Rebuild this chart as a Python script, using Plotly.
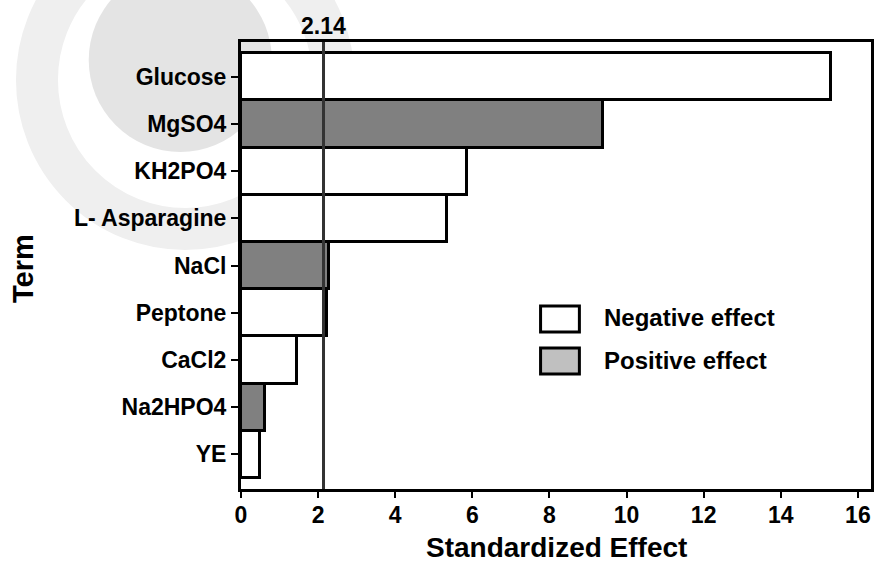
import plotly.graph_objects as go

# Pareto chart of standardized effects
terms = ["Glucose", "MgSO4", "KH2PO4", "L- Asparagine", "NaCl",
         "Peptone", "CaCl2", "Na2HPO4", "YE"]
effects = [15.3, 9.4, 5.87, 5.33, 2.27, 2.22, 1.44, 0.62, 0.5]
signs = ["Negative", "Positive", "Negative", "Negative", "Positive",
         "Negative", "Negative", "Positive", "Negative"]
critical_value = 2.14
x_ticks = [0, 2, 4, 6, 8, 10, 12, 14, 16]

BAR_FILL = {"Negative": "#ffffff", "Positive": "#808080"}
LEGEND_FILL = {"Negative": "#ffffff", "Positive": "#c0c0c0"}
legend_labels = ["Negative effect", "Positive effect"]

FONT = "Liberation Sans, Arial, sans-serif"

# page geometry (pixels)
W, H = 877, 563
L, R, T, B = 241, 3, 42, 74
PW, PH = W - L - R, H - T - B


def px(xp):
    return (xp - L) / PW


def py(yp):
    return (H - B - yp) / PH


fig = go.Figure()
fig.add_trace(go.Bar(
    y=terms, x=effects, orientation="h", width=1,
    marker=dict(color=[BAR_FILL[s] for s in signs],
                line=dict(color="black", width=3)),
    showlegend=False, hoverinfo="x+y",
))

shapes = []
# faint background emblem
shapes.append(dict(type="circle", xref="paper", yref="paper", layer="below",
                   x0=px(36), x1=px(334), y0=py(229), y1=py(-69),
                   line=dict(color="#efefef", width=42), fillcolor="rgba(0,0,0,0)"))
shapes.append(dict(type="circle", xref="paper", yref="paper", layer="below",
                   x0=px(88), x1=px(272), y0=py(152), y1=py(-32),
                   line=dict(width=0), fillcolor="#e4e4e4"))

# critical value line
shapes.append(dict(type="line", xref="x", yref="paper",
                   x0=critical_value, x1=critical_value, y0=0, y1=1,
                   line=dict(color="#333333", width=3), layer="above"))

annotations = [
    dict(text="<b>%.2f</b>" % critical_value, x=critical_value, xref="x",
         y=py(26), yref="paper", xanchor="center", yanchor="middle",
         showarrow=False, font=dict(family=FONT, size=23, color="black")),
    dict(text="<b>Standardized Effect</b>", x=px(558), xref="paper",
         y=py(547), yref="paper", xanchor="center", yanchor="middle",
         showarrow=False, font=dict(family=FONT, size=28, color="black")),
    dict(text="<b>Term</b>", x=px(22), xref="paper",
         y=py(269), yref="paper", xanchor="center", yanchor="middle",
         textangle=-90, showarrow=False,
         font=dict(family=FONT, size=29, color="black")),
]

# legend keys
key_rows = [(306, 332, 317), (348, 374, 360)]
for (top, bot, ymid), lab, s in zip(key_rows, legend_labels, ["Negative", "Positive"]):
    shapes.append(dict(type="rect", xref="paper", yref="paper",
                       x0=px(542), x1=px(581), y0=py(bot), y1=py(top),
                       line=dict(color="black", width=3),
                       fillcolor=LEGEND_FILL[s], layer="above"))
    annotations.append(dict(text="<b>%s</b>" % lab, x=px(604), xref="paper",
                            y=py(ymid), yref="paper", xanchor="left",
                            yanchor="middle", showarrow=False,
                            font=dict(family=FONT, size=24, color="black")))

fig.update_layout(
    width=W, height=H,
    margin=dict(l=L, r=R, t=T, b=B, pad=0),
    paper_bgcolor="white", plot_bgcolor="white",
    bargap=0, showlegend=False,
    shapes=shapes, annotations=annotations,
    xaxis=dict(range=[0, 16.34], tickvals=x_ticks,
               ticktext=["<b>%d</b>" % v for v in x_ticks],
               ticks="outside", ticklen=6, tickwidth=2, tickcolor="black",
               ticklabelstandoff=-3,
               showline=True, linewidth=3, linecolor="black", mirror=True,
               showgrid=False, zeroline=False,
               tickfont=dict(family=FONT, size=23, color="black")),
    yaxis=dict(type="category", categoryorder="array", categoryarray=terms,
               range=[len(terms) - 0.5 + 0.235, -0.5 - 0.235],
               tickvals=terms, ticktext=["<b>%s</b>" % t for t in terms],
               ticks="outside", ticklen=7, tickwidth=2, tickcolor="black",
               showline=True, linewidth=3, linecolor="black", mirror=True,
               showgrid=False, zeroline=False,
               tickfont=dict(family=FONT, size=23, color="black")),
)

fig.write_html("out.html")
